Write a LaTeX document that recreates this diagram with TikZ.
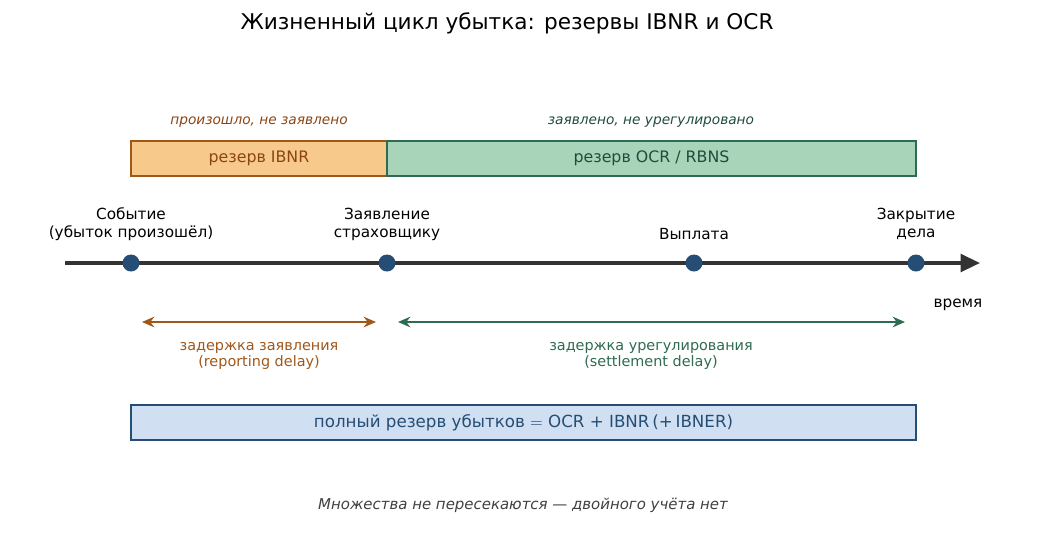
\documentclass[tikz,border=0pt]{standalone}
\usepackage{fontspec}
\setmainfont{DejaVu Sans}
\usetikzlibrary{arrows.meta}

\definecolor{ibnrfill}{HTML}{F7C98B}
\definecolor{ibnrline}{HTML}{A0571A}
\definecolor{ibnrtext}{HTML}{8B4513}
\definecolor{ocrfill}{HTML}{A8D5B9}
\definecolor{ocrline}{HTML}{2E6B50}
\definecolor{ocrtext}{HTML}{1E4D3A}
\definecolor{dotblue}{HTML}{264D73}
\definecolor{totalfill}{HTML}{D0E0F2}
\definecolor{axisgray}{HTML}{333333}

\tikzset{
  reservebox/.style={draw,line width=1.2pt,minimum height=35\unitpx,inner sep=0pt,font=\fontsize{9}{10}\selectfont},
  eventdot/.style={circle,fill=dotblue,inner sep=0pt,minimum size=17\unitpx},
  eventlabel/.style={align=center,font=\fontsize{8.7}{10.2}\selectfont},
  phaselabel/.style={font=\itshape\fontsize{7.8}{9}\selectfont},
  delaylabel/.style={align=center,font=\fontsize{8.2}{8.8}\selectfont},
  delayarrow/.style={{Stealth[length=7pt,width=6pt]}-{Stealth[length=7pt,width=6pt]},line width=1.5pt}
}
\newlength{\unitpx}
\setlength{\unitpx}{0.02cm}

\begin{document}
\begin{tikzpicture}[x=0.02cm,y=-0.02cm]
  \useasboundingbox (0,0) rectangle (1047,552);

  \node[font=\fontsize{12.3}{14}\selectfont] (title) at (507,23) {Жизненный цикл убытка: резервы IBNR и OCR};

  % reserve bars
  \node[reservebox,fill=ibnrfill,draw=ibnrline,text=ibnrtext,minimum width=256\unitpx] (ibnr) at (259,158.5) {резерв IBNR};
  \node[reservebox,fill=ocrfill,draw=ocrline,text=ocrtext,minimum width=529\unitpx] (ocr) at (651.5,158.5) {резерв OCR / RBNS};
  \node[phaselabel,text=ibnrtext] (ibnrphase) at (259,122) {произошло, не заявлено};
  \node[phaselabel,text=ocrtext] (ocrphase) at (651,122) {заявлено, не урегулировано};

  % time axis
  \coordinate (tstart) at (65,263);
  \coordinate (tend) at (980,263);
  \draw[axisgray,line width=2pt,-{Triangle[length=11pt,width=10pt]}] (tstart) -- (tend);
  \node[eventdot] (loss) at (131,263) {};
  \node[eventdot] (report) at (387,263) {};
  \node[eventdot] (payment) at (694,263) {};
  \node[eventdot] (closure) at (916,263) {};
  \node[eventlabel] (losslbl) at (131,224) {Событие\\(убыток произошёл)};
  \node[eventlabel] (reportlbl) at (387,224) {Заявление\\страховщику};
  \node[eventlabel] (paymentlbl) at (694,234) {Выплата};
  \node[eventlabel] (closurelbl) at (916,224) {Закрытие\\дела};
  \node[eventlabel] (timelbl) at (958,305) {время};

  % delays
  \coordinate (repA) at (142,322);
  \coordinate (repB) at (376,322);
  \coordinate (setA) at (398,322);
  \coordinate (setB) at (905,322);
  \draw[delayarrow,ibnrline] (repA) -- (repB);
  \draw[delayarrow,ocrline] (setA) -- (setB);
  \node[delaylabel,text=ibnrline] (replbl) at (259,356) {задержка заявления\\(reporting delay)};
  \node[delaylabel,text=ocrline] (setlbl) at (651,356) {задержка урегулирования\\(settlement delay)};

  % total
  \node[reservebox,fill=totalfill,draw=dotblue,text=dotblue,minimum width=785\unitpx,font=\fontsize{9.5}{11}\selectfont] (total) at (523.5,422.5) {полный резерв убытков $=$ OCR + IBNR\,(+\,IBNER)};
  \node[font=\itshape\fontsize{8.5}{10}\selectfont,text=black!75] (note) at (523,505) {Множества не пересекаются — двойного учёта нет};
\end{tikzpicture}
\end{document}
